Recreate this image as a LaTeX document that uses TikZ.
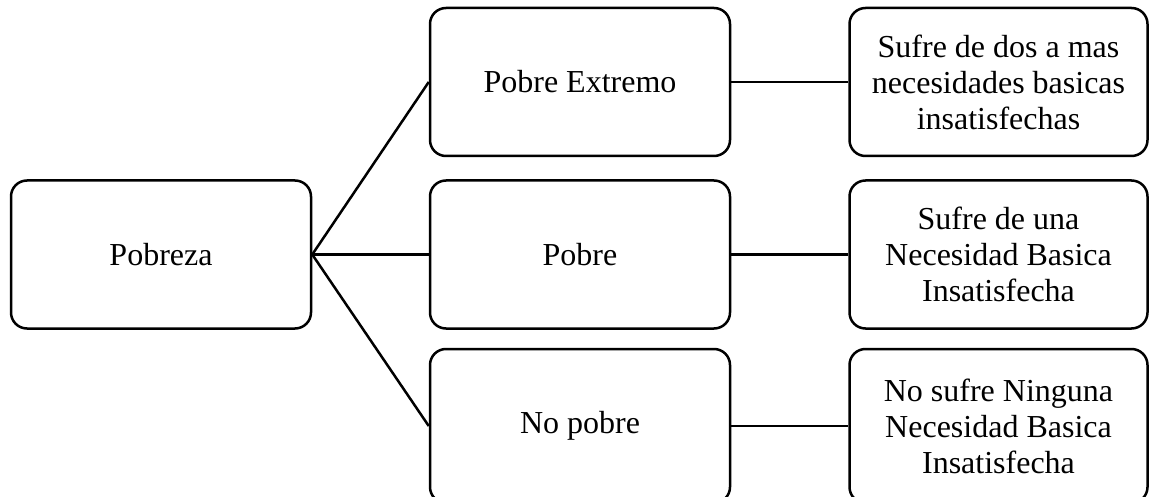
\documentclass[tikz,border=0pt]{standalone}
\usepackage{fontspec}
\setmainfont{Liberation Serif}
\usetikzlibrary{positioning}

\tikzset{
  caja/.style={draw, line width=2.5pt, rounded corners=16pt,
    minimum width=300pt, minimum height=148pt, inner sep=0pt,
    align=center, font=\fontsize{32}{36}\selectfont},
  cajader/.style={caja, minimum width=298pt},
  rama/.style={line width=2.5pt}
}

\begin{document}
\begin{tikzpicture}[x=1pt, y=-1pt]
  \useasboundingbox (0,0) rectangle (1150,497);

  % root and middle column
  \node [caja] (pob) at (161,254.5) {Pobreza};
  \node [caja] (ext) at (580,82) {Pobre Extremo};
  \node [caja] (pbr) at (580,254.5) {Pobre};
  \node [caja, minimum height=154pt] (nop) at (580,426) {No pobre};

  % right column
  \node [cajader, right = 117pt of ext] (dext) {Sufre de dos a mas\\necesidades basicas\\insatisfechas};
  \node [cajader, right = 117pt of pbr] (dpbr) {Sufre de una\\Necesidad Basica\\Insatisfecha};
  \node [cajader, minimum height=154pt, right = 117pt of nop] (dnop) {No sufre Ninguna\\Necesidad Basica\\Insatisfecha};

  % branches
  \draw [rama] (ext.west) -- (pob.east) -- (nop.west);
  \draw [rama] (pob.east) -- (pbr.west);
  \draw [rama] (ext) -- (dext);
  \draw [rama] (pbr) -- (dpbr);
  \draw [rama] (nop) -- (dnop);
\end{tikzpicture}
\end{document}
